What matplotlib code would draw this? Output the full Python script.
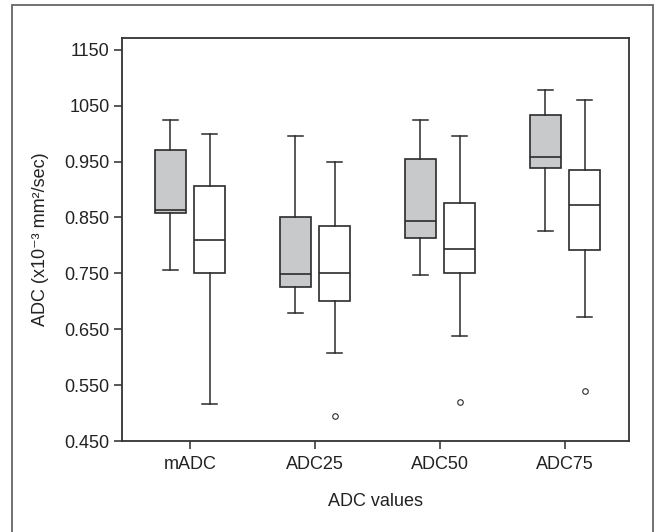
import matplotlib
matplotlib.use('Agg')
import matplotlib.pyplot as plt
from matplotlib.patches import Rectangle

plt.rcParams['font.family'] = ['Liberation Sans', 'DejaVu Sans']

groups = ['mADC', 'ADC25', 'ADC50', 'ADC75']

# gray boxes
g_whishi = [1.025, 0.995, 1.025, 1.078]
g_q3 = [0.970, 0.850, 0.954, 1.034]
g_med = [0.864, 0.749, 0.843, 0.958]
g_q1 = [0.858, 0.725, 0.814, 0.938]
g_whislo = [0.756, 0.679, 0.747, 0.826]
g_fliers = [[], [], [], []]

# white boxes
w_whishi = [1.000, 0.949, 0.995, 1.060]
w_q3 = [0.906, 0.835, 0.876, 0.934]
w_med = [0.809, 0.750, 0.794, 0.873]
w_q1 = [0.750, 0.701, 0.750, 0.792]
w_whislo = [0.517, 0.608, 0.637, 0.672]
w_fliers = [[], [0.495], [0.519], [0.540]]

yticks = [0.45, 0.55, 0.65, 0.75, 0.85, 0.95, 1.05, 1.15]
ytick_labels = ['0.450', '0.550', '0.650', '0.750', '0.850', '0.950', '1050', '1150']


def stats(whislo, q1, med, q3, whishi, fliers):
    return [dict(whislo=a, q1=b, med=c, q3=d, whishi=e, fliers=f)
            for a, b, c, d, e, f in zip(whislo, q1, med, q3, whishi, fliers)]


fig = plt.figure(figsize=(6.57, 5.32), dpi=100)
ax = fig.add_axes([0.1857, 0.171, 0.7717, 0.7576])

dark = '#2b2b2b'
off = 0.157
width = 0.245
common = dict(widths=width, patch_artist=True,
              whiskerprops=dict(color=dark, lw=1.1),
              capprops=dict(color=dark, lw=1.1),
              medianprops=dict(color=dark, lw=1.2),
              flierprops=dict(marker='o', markersize=4, markerfacecolor='white',
                              markeredgecolor=dark, markeredgewidth=0.8))

pos = list(range(len(groups)))
ax.bxp(stats(g_whislo, g_q1, g_med, g_q3, g_whishi, g_fliers),
       positions=[p - off for p in pos],
       boxprops=dict(facecolor='#c8c9cb', edgecolor=dark, lw=1.2), **common)
ax.bxp(stats(w_whislo, w_q1, w_med, w_q3, w_whishi, w_fliers),
       positions=[p + off for p in pos],
       boxprops=dict(facecolor='white', edgecolor=dark, lw=1.2), **common)

ax.set_xlim(-0.544, 3.512)
ax.set_ylim(0.45, 1.171)
ax.set_xticks(pos)
ax.set_xticklabels(groups)
ax.set_yticks(yticks)
ax.set_yticklabels(ytick_labels)
ax.tick_params(axis='both', direction='out', length=6, width=1.1, color=dark,
               labelsize=13, labelcolor='#222222', pad=3)
ax.tick_params(axis='x', pad=5)

for s in ax.spines.values():
    s.set_color('#333333')
    s.set_linewidth(1.3)

ax.set_xlabel('ADC values', fontsize=13, color='#222222', labelpad=14)
ax.set_ylabel('ADC (x10\u207b\u00b3 mm\u00b2/sec)', fontsize=13, color='#222222', labelpad=11)

# outer frame, open at the bottom
fig.add_artist(Rectangle((12 / 657, -0.1), (653 - 12) / 657, 1.1 - 5 / 532,
                         transform=fig.transFigure, fill=False,
                         edgecolor='#666666', lw=1.3, clip_on=False))

fig.savefig('out.png', dpi=100)
